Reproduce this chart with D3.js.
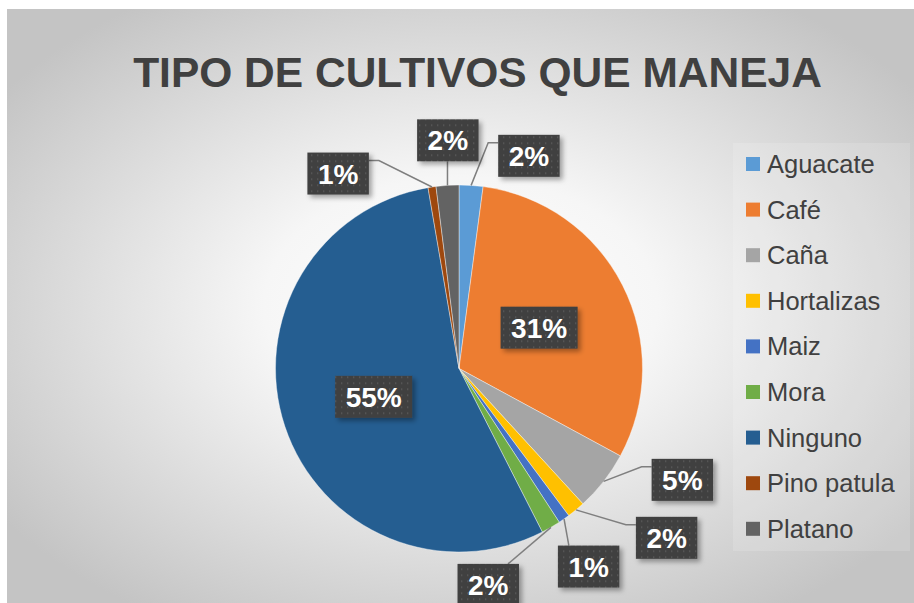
<!DOCTYPE html>
<html>
<head>
<meta charset="utf-8">
<script src="https://cdn.jsdelivr.net/npm/d3@7"></script>
<style>
  html, body { margin: 0; padding: 0; background: #fff; }
  svg { display: block; }
</style>
</head>
<body>
<svg id="chart" width="914" height="603"></svg>
<script>
// data
var categories = ['Aguacate', 'Café', 'Caña', 'Hortalizas', 'Maiz', 'Mora', 'Ninguno', 'Pino patula', 'Platano'];
var values = [2.1, 30.8, 5.3, 1.6, 1.0, 1.7, 54.8, 0.7, 2.0];
var colors = ['#5B9BD5', '#ED7D31', '#A5A5A5', '#FFC000', '#4472C4', '#70AD47', '#255E91', '#9E480E', '#636363'];
var title = 'TIPO DE CULTIVOS QUE MANEJA';

// label layout: [radius factor, angle in degrees clockwise from top], inside labels use centroid
var labelPlacement = [
  [1.22, 18.2], null, [1.36, 116.5], [1.46, 129.2], [1.29, 146.8],
  [1.19, 172.3], null, [1.25, 328.2], [1.245, 357.2]
];

var width = 914, height = 603;
var cx = 459, cy = 368.5, radius = 183.5;

var svg = d3.select('#chart');
var defs = svg.append('defs');

// background gradient
var grad = defs.append('radialGradient')
  .attr('id', 'bg')
  .attr('cx', '50%').attr('cy', '50%').attr('r', '62%');
grad.append('stop').attr('offset', '0%').attr('stop-color', '#ffffff');
grad.append('stop').attr('offset', '35%').attr('stop-color', '#f6f6f6');
grad.append('stop').attr('offset', '100%').attr('stop-color', '#c4c4c4');

// dotted label fill
var pat = defs.append('pattern')
  .attr('id', 'dots')
  .attr('width', 6).attr('height', 6)
  .attr('patternUnits', 'userSpaceOnUse');
pat.append('rect').attr('width', 6).attr('height', 6).attr('fill', '#404040');
pat.append('rect').attr('x', 2).attr('y', 2).attr('width', 1.3).attr('height', 1.3).attr('fill', '#5f5f5f');

var shadow = defs.append('filter').attr('id', 'shadow')
  .attr('x', '-20%').attr('y', '-20%').attr('width', '150%').attr('height', '160%');
shadow.append('feDropShadow')
  .attr('dx', 3).attr('dy', 3).attr('stdDeviation', 2.5)
  .attr('flood-color', '#000').attr('flood-opacity', 0.35);

svg.append('rect')
  .attr('x', 7).attr('y', 9)
  .attr('width', width - 7).attr('height', height - 9)
  .attr('fill', 'url(#bg)');

// title
svg.append('text')
  .attr('x', 477.5).attr('y', 87)
  .attr('text-anchor', 'middle')
  .style('font-family', 'Liberation Sans, Arial, sans-serif')
  .style('font-weight', 'bold')
  .style('font-size', '42.5px')
  .style('fill', '#404040')
  .text(title);

// pie
var total = d3.sum(values);
var pie = d3.pie().sort(null).value(function(d) { return d.value; });
var arcs = pie(categories.map(function(c, i) {
  return { name: c, value: values[i], color: colors[i], index: i };
}));
var arc = d3.arc().innerRadius(0).outerRadius(radius);
var inner = d3.arc().innerRadius(radius * 0.49).outerRadius(radius * 0.49);

var g = svg.append('g').attr('transform', 'translate(' + cx + ',' + cy + ')');

g.selectAll('path.slice')
  .data(arcs)
  .enter()
  .append('path')
  .attr('class', 'slice')
  .attr('d', arc)
  .attr('fill', function(d) { return d.data.color; })
  .attr('stroke', '#ffffff')
  .attr('stroke-width', 0.4);

function polar(r, deg) {
  var a = deg * Math.PI / 180;
  return [r * Math.sin(a), -r * Math.cos(a)];
}

var fontSize = 28, boxH = 42, padX = 10.5;
var labels = g.append('g');

arcs.forEach(function(d, i) {
  var pct = Math.round(d.data.value / total * 100) + '%';
  var center;
  var place = labelPlacement[i];
  if (place) {
    center = polar(radius * place[0], place[1]);
  } else {
    center = inner.centroid(d);
  }

  var t = labels.append('text')
    .attr('text-anchor', 'middle')
    .style('font-family', 'Liberation Sans, Arial, sans-serif')
    .style('font-weight', 'bold')
    .style('font-size', fontSize + 'px')
    .style('fill', '#ffffff')
    .text(pct);
  var w = t.node().getComputedTextLength() + padX * 2;
  var box = { left: center[0] - w / 2, right: center[0] + w / 2, top: center[1] - boxH / 2, bottom: center[1] + boxH / 2 };

  // leader line
  if (place) {
    var mid = (d.startAngle + d.endAngle) / 2 * 180 / Math.PI;
    var s = polar(radius, mid);
    var pts;
    var hGap = s[0] < box.left ? box.left - s[0] : (s[0] > box.right ? s[0] - box.right : 0);
    var vGap = s[1] < box.top ? box.top - s[1] : (s[1] > box.bottom ? s[1] - box.bottom : 0);
    if (hGap > 5 && hGap >= vGap) {
      var yA = box.top + 8;
      if (s[0] < box.left) {
        pts = [s, [box.left - 10, yA], [box.left, yA]];
      } else {
        pts = [s, [box.right + 10, yA], [box.right, yA]];
      }
    } else {
      var xA = Math.max(box.left + 11, Math.min(box.right - 11, s[0]));
      pts = [s, [xA, s[1] < box.top ? box.top : box.bottom]];
    }
    labels.insert('path', 'text')
      .attr('d', d3.line()(pts))
      .attr('fill', 'none')
      .attr('stroke', '#7f7f7f')
      .attr('stroke-width', 1.5);
  }

  labels.insert('rect', 'text:last-child')
    .attr('x', box.left).attr('y', box.top)
    .attr('width', w).attr('height', boxH)
    .attr('fill', 'url(#dots)')
    .attr('filter', 'url(#shadow)');

  t.attr('x', center[0]).attr('y', center[1] + fontSize * 0.36);
});

// legend
svg.append('rect')
  .attr('x', 733).attr('y', 143)
  .attr('width', 177).attr('height', 408)
  .attr('fill', '#ffffff').attr('fill-opacity', 0.15);

var legend = svg.append('g').attr('transform', 'translate(746,157)');
var rowH = 45.6;
var items = legend.selectAll('g.item')
  .data(arcs)
  .enter()
  .append('g')
  .attr('class', 'item')
  .attr('transform', function(d, i) { return 'translate(0,' + (i * rowH) + ')'; });

items.append('rect')
  .attr('width', 14).attr('height', 14)
  .attr('fill', function(d) { return d.data.color; });

items.append('text')
  .attr('x', 21).attr('y', 16)
  .style('font-family', 'Liberation Sans, Arial, sans-serif')
  .style('font-size', '25.5px')
  .style('fill', '#404040')
  .text(function(d) { return d.data.name; });
</script>
</body>
</html>
